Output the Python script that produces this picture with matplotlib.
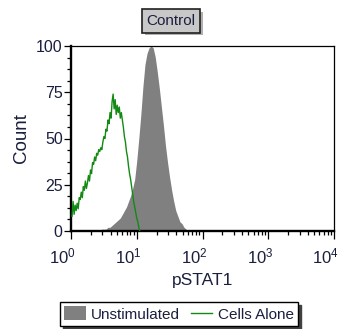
import numpy as np
import matplotlib
matplotlib.use("Agg")
import matplotlib.pyplot as plt
import matplotlib.patheffects as pe
from matplotlib.patches import Patch
from matplotlib.lines import Line2D
from matplotlib.transforms import ScaledTranslation
from matplotlib.ticker import MultipleLocator, FixedLocator, NullFormatter

plt.rcParams['font.family'] = ['Liberation Sans', 'DejaVu Sans']
plt.rcParams['mathtext.fontset'] = 'custom'
plt.rcParams['mathtext.rm'] = 'Liberation Sans'
plt.rcParams['mathtext.it'] = 'Liberation Sans'
plt.rcParams['mathtext.default'] = 'regular'

TXT = '#1a1f3d'
GREEN = '#138a13'

# 64 channels per decade on the log scale
CH_PER_DECADE = 64.0

# Unstimulated (filled grey histogram)
unstim_ch = list(range(28, 116, 2))
unstim_counts = [0, 1, 1, 1, 2, 2, 3, 4, 5, 6, 7, 9, 11, 13, 16, 19, 23, 28,
                 38, 50, 63, 78, 90, 96, 99, 100, 99, 94, 86, 77, 67, 57, 46,
                 37, 29, 22, 16, 11, 8, 5, 4, 2, 1, 0]

# Cells Alone (green line)
cells_counts = [8, 16, 9, 14, 11, 15, 12, 18, 17, 21, 18, 24, 22, 27, 23, 26,
                30, 27, 33, 31, 37, 36, 40, 38, 42, 41, 44, 43, 45, 44, 48, 51,
                50, 55, 54, 60, 58, 64, 61, 70, 74, 66, 71, 63, 68, 64, 67, 61,
                64, 60, 56, 51, 48, 43, 40, 35, 31, 28, 24, 20, 16, 13, 10, 7,
                5, 2, 0]
cells_ch = list(range(1, 1 + len(cells_counts)))

decades = [1, 10, 100, 1000, 10000]
decade_labels = [r'$10^{0}$', r'$10^{1}$', r'$10^{2}$', r'$10^{3}$', r'$10^{4}$']
count_ticks = [0, 25, 50, 75, 100]

unstim_x = 10 ** (np.array(unstim_ch) / CH_PER_DECADE)
cells_x = 10 ** (np.array(cells_ch) / CH_PER_DECADE)

fig = plt.figure(figsize=(3.44, 3.29), dpi=100)
ax = fig.add_axes([71 / 344, 1 - 231 / 329, 263 / 344, 185 / 329])

ax.fill_between(unstim_x, unstim_counts, color='#808080', linewidth=0, zorder=2)
ax.plot(cells_x, cells_counts, color=GREEN, lw=1.0, zorder=3)

ax.set_xscale('log')
ax.set_xlim(decades[0], decades[-1])
ax.set_ylim(count_ticks[0], count_ticks[-1])
ax.set_yticks(count_ticks)
ax.yaxis.set_minor_locator(MultipleLocator(6.25))
ax.xaxis.set_major_locator(FixedLocator(decades))
minor = [d * k for d in decades[:-1] for k in range(2, 10)]
ax.xaxis.set_minor_locator(FixedLocator(minor))
ax.xaxis.set_minor_formatter(NullFormatter())
ax.set_xticklabels(decade_labels)

for side in ['top', 'right']:
    ax.spines[side].set_linewidth(0.9)
for side in ['left', 'bottom']:
    ax.spines[side].set_linewidth(1.7)

ax.tick_params(axis='y', which='major', length=5, width=0.9, pad=1,
               labelsize=11.5, labelcolor=TXT)
ax.tick_params(axis='y', which='minor', length=3, width=0.9)
ax.tick_params(axis='x', which='major', length=6, width=0.9, pad=5,
               labelsize=12, labelcolor=TXT)
ax.tick_params(axis='x', which='minor', length=3, width=0.9)

# the "10" sits left of its tick, exponent hangs past it
shift = ScaledTranslation(5 / 100, 0, fig.dpi_scale_trans)
for lab in ax.get_xticklabels():
    lab.set_horizontalalignment('right')
    lab.set_transform(lab.get_transform() + shift)

ax.set_xlabel('pSTAT1', fontsize=12.5, color=TXT, labelpad=5)
ax.set_ylabel('Count', fontsize=13.5, color=TXT, labelpad=4)

# title box with drop shadow
title = fig.text(171 / 344, 1 - 21 / 329, 'Control', fontsize=11, color=TXT,
                 ha='center', va='center',
                 bbox=dict(boxstyle='square,pad=0.3', fc='#c8c8c8',
                           ec='#202020', lw=1.2))
title.get_bbox_patch().set_path_effects([
    pe.SimplePatchShadow(offset=(2, -2), shadow_rgbFace='#b0b0b0', alpha=1),
    pe.Normal()])

handles = [Patch(facecolor='#808080', edgecolor='none'),
           Line2D([], [], color=GREEN, lw=1)]
leg = fig.legend(handles, ['Unstimulated', 'Cells Alone'], ncol=2,
                 loc='center', bbox_to_anchor=(179 / 344, 1 - 314 / 329),
                 fontsize=11, frameon=True, fancybox=False,
                 shadow={'color': '#404040', 'alpha': 1},
                 handlelength=1.4, handleheight=1.0, handletextpad=0.35,
                 columnspacing=0.7, borderpad=0.3, labelcolor=TXT)
leg.get_frame().set_edgecolor('#000000')
leg.get_frame().set_linewidth(1.0)

fig.savefig('out.png', dpi=100)
